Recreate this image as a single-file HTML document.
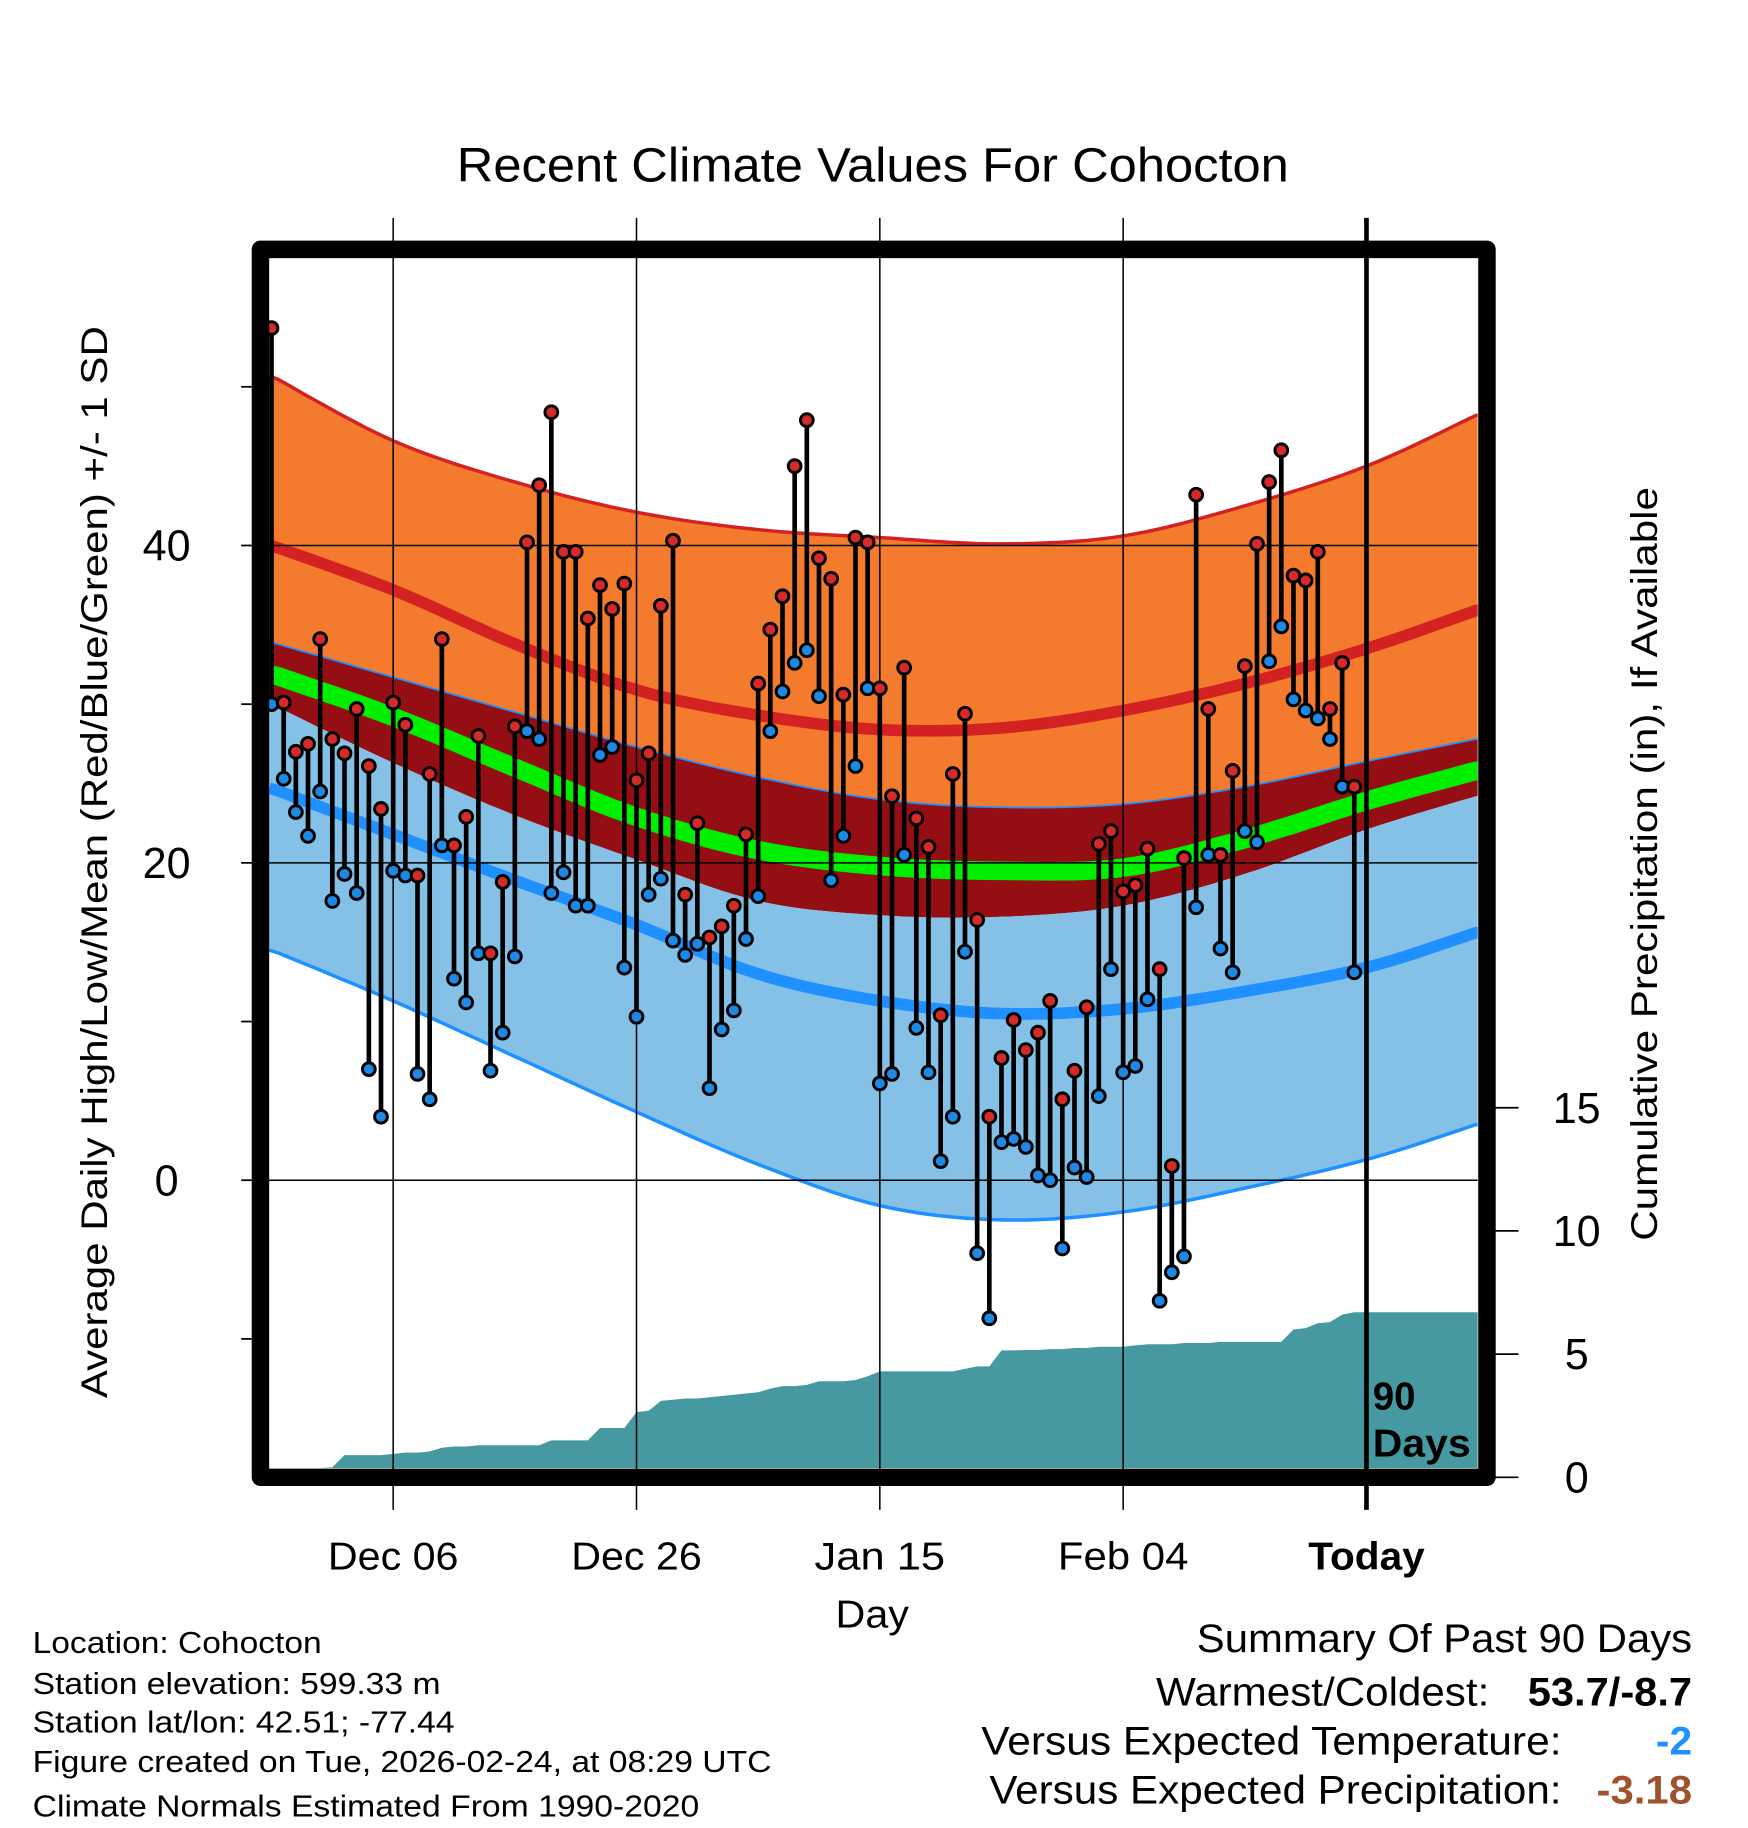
<!DOCTYPE html>
<html><head><meta charset="utf-8"><style>
html,body{margin:0;padding:0;background:#fff}
svg{display:block}
text{font-family:"Liberation Sans",Arial,sans-serif;fill:#000}
</style></head><body>
<svg id="chart" xmlns="http://www.w3.org/2000/svg" width="1748" height="1828" viewBox="0 0 1500 1569" preserveAspectRatio="none">
<text x="392" y="156" font-size="41" textLength="714" lengthAdjust="spacingAndGlyphs">Recent Climate Values For Cohocton</text>
<g id="plot"></g>
<text transform="translate(92,1200) rotate(-90)" font-size="32" textLength="920" lengthAdjust="spacingAndGlyphs">Average Daily High/Low/Mean (Red/Blue/Green) +/- 1 SD</text>
<text transform="translate(1422,1065) rotate(-90)" font-size="32" textLength="647" lengthAdjust="spacingAndGlyphs">Cumulative Precipitation (in), If Available</text>
<text x="717" y="1397" font-size="33" textLength="63" lengthAdjust="spacingAndGlyphs">Day</text>
<g font-size="26">
<text x="28" y="1419" textLength="248" lengthAdjust="spacingAndGlyphs">Location: Cohocton</text>
<text x="28" y="1454" textLength="350" lengthAdjust="spacingAndGlyphs">Station elevation: 599.33 m</text>
<text x="28" y="1487" textLength="362" lengthAdjust="spacingAndGlyphs">Station lat/lon: 42.51; -77.44</text>
<text x="28" y="1521" textLength="634" lengthAdjust="spacingAndGlyphs">Figure created on Tue, 2026-02-24, at 08:29 UTC</text>
<text x="28" y="1559" textLength="572" lengthAdjust="spacingAndGlyphs">Climate Normals Estimated From 1990-2020</text>
</g>
<g font-size="34">
<text x="1027" y="1418" textLength="425" lengthAdjust="spacingAndGlyphs">Summary Of Past 90 Days</text>
<text x="992" y="1464" textLength="286" lengthAdjust="spacingAndGlyphs">Warmest/Coldest:</text>
<text x="1311" y="1464" font-weight="bold" textLength="141" lengthAdjust="spacingAndGlyphs">53.7/-8.7</text>
<text x="842" y="1506" textLength="498" lengthAdjust="spacingAndGlyphs">Versus Expected Temperature:</text>
<text x="1421" y="1506" font-weight="bold" style="fill:#1e90ff" textLength="31" lengthAdjust="spacingAndGlyphs">-2</text>
<text x="849" y="1548" textLength="491" lengthAdjust="spacingAndGlyphs">Versus Expected Precipitation:</text>
<text x="1370" y="1548" font-weight="bold" style="fill:#a0522d" textLength="82" lengthAdjust="spacingAndGlyphs">-3.18</text>
</g>
</svg>
<script>
const highs=[53.7,30.1,27.0,27.5,34.1,27.8,26.9,29.7,26.1,23.4,30.1,28.7,19.2,25.6,34.1,21.1,22.9,28.0,14.3,18.8,28.6,40.2,43.8,48.4,39.6,39.6,35.4,37.5,36.0,37.6,25.2,26.9,36.2,40.3,18.0,22.5,15.3,16.0,17.3,21.8,31.3,34.7,36.8,45.0,47.9,39.2,37.9,30.6,40.5,40.2,31.0,24.2,32.3,22.8,21.0,10.4,25.6,29.4,16.4,4.0,7.7,10.1,8.2,9.3,11.3,5.1,6.9,10.9,21.2,22.0,18.2,18.6,20.9,13.3,0.9,20.3,43.2,29.7,20.5,25.8,32.4,40.1,44.0,46.0,38.1,37.8,39.6,29.7,32.6,24.8];
const lows=[30.0,25.3,23.2,21.7,24.5,17.6,19.3,18.1,7.0,4.0,19.5,19.2,6.7,5.1,21.1,12.7,11.2,14.3,6.9,9.3,14.1,28.3,27.8,18.1,19.4,17.3,17.3,26.8,27.3,13.4,10.3,18.0,19.0,15.1,14.2,14.9,5.8,9.5,10.7,15.2,17.9,28.3,30.8,32.6,33.4,30.5,18.9,21.7,26.1,31.0,6.1,6.7,20.5,9.6,6.8,1.2,4.0,14.4,-4.6,-8.7,2.4,2.6,2.1,0.3,0.0,-4.3,0.8,0.2,5.3,13.3,6.8,7.2,11.4,-7.6,-5.8,-4.8,17.2,20.5,14.6,13.1,22.0,21.3,32.7,34.9,30.3,29.6,29.1,27.8,24.8,13.1];
const precip=[0.0,0.0,0.0,0.0,0.0,0.4,0.9,0.9,0.9,0.9,0.95,1.0,1.0,1.05,1.2,1.25,1.25,1.3,1.3,1.3,1.3,1.3,1.3,1.5,1.5,1.5,1.5,2.0,2.0,2.0,2.65,2.7,3.1,3.15,3.2,3.2,3.25,3.3,3.35,3.4,3.45,3.6,3.7,3.7,3.75,3.9,3.9,3.9,3.95,4.1,4.3,4.3,4.3,4.3,4.3,4.3,4.3,4.4,4.5,4.5,5.15,5.15,5.17,5.17,5.2,5.2,5.25,5.25,5.3,5.3,5.3,5.35,5.4,5.4,5.4,5.45,5.45,5.45,5.5,5.5,5.5,5.5,5.5,5.5,6.0,6.05,6.25,6.3,6.6,6.7];
const normDays=[0,10,20,30,40,50,60,70,80,90,99];
const highPlus=[50.7,46.6,44.0,42.1,41.0,40.5,40.1,40.6,42.5,45.0,48.2];
const meanHigh=[40.0,37.2,33.8,30.9,29.3,28.4,28.5,29.6,31.3,33.5,35.9];
const lowPlus=[33.9,31.7,29.5,27.3,25.4,24.0,23.5,23.7,24.8,26.4,27.8];
const meanAvg=[31.9,29.2,26.0,22.9,20.8,19.8,19.5,19.7,21.5,23.9,25.8];
const highMinus=[30.0,26.3,23.0,20.2,17.6,16.7,16.6,17.3,19.3,22.1,24.2];
const meanLow=[24.7,21.8,18.9,16.1,13.0,11.3,10.5,10.8,11.9,13.4,15.6];
const lowMinus=[14.5,11.3,7.8,4.3,1.0,-1.6,-2.5,-2.0,-0.5,1.3,3.5];
const xTickDays=[10,30,50,70,90];
const xTickLabels=["Dec 06","Dec 26","Jan 15","Feb 04","Today"];
const yTicks=[0,20,40];
const y2Ticks=[0,5,10,15];

const NS="http://www.w3.org/2000/svg";
const g=document.getElementById('plot');
const X=d=>233+d*10.44;
const Y=v=>1013-v*13.62;
const YP=p=>1268-p*21.15;
const L=231,R=1268,T=221,B=1260;
function mk(tag,attrs,parent){const e=document.createElementNS(NS,tag);for(const k in attrs)e.setAttribute(k,attrs[k]);(parent||g).appendChild(e);return e;}
function curvePts(arr){const pts=[];for(let i=0;i<normDays.length;i++){pts.push([Math.max(L,Math.min(R,X(normDays[i]))),Y(arr[i])]);}
 const out=[];for(let i=0;i<pts.length-1;i++){const p0=pts[Math.max(0,i-1)],p1=pts[i],p2=pts[i+1],p3=pts[Math.min(pts.length-1,i+2)];
 for(let t=0;t<1;t+=0.1){const t2=t*t,t3=t2*t;const f=(a,b,c,d)=>0.5*((2*b)+(-a+c)*t+(2*a-5*b+4*c-d)*t2+(-a+3*b-3*c+d)*t3);out.push([f(p0[0],p1[0],p2[0],p3[0]),f(p0[1],p1[1],p2[1],p3[1])]);}}
 out.push(pts[pts.length-1]);out[0][0]=L;out[out.length-1][0]=R;return out;}
const S=p=>p.map(q=>q[0].toFixed(1)+','+q[1].toFixed(1)).join(' ');
function band(a,b,fill,name){const p=curvePts(a).concat(curvePts(b).reverse());const e=mk('polygon',{points:S(p),fill:fill});

}
function line(a,stroke,w,name){const e=mk('polyline',{points:S(curvePts(a)),fill:'none',stroke:stroke,'stroke-width':w});

}

band(highPlus,lowPlus,'#f47a2e','high-sd-band');
band(lowPlus,highMinus,'#940e14','overlap-band');
band(highMinus,lowMinus,'#85c1e6','low-sd-band');
line(highPlus,'#d42222',3,'high-plus-sd-line');
line(lowPlus,'#1e90ff',1.5,'low-plus-sd-line');
line(lowMinus,'#1e90ff',3,'low-minus-sd-line');
line(meanHigh,'#d42222',10,'mean-high-line');
line(meanLow,'#1e90ff',10,'mean-low-line');
line(meanAvg,'#00ee00',16,'mean-line');

// precipitation area
{const pts=[[L,B]];for(let i=0;i<precip.length;i++){pts.push([i===0?L:X(i),YP(precip[i])]);}
pts.push([R,YP(precip[precip.length-1])]);pts.push([R,B]);
const e=mk('polygon',{points:S(pts.map(p=>[p[0],Math.min(B,p[1])])),fill:'#4799a1'});

}

// grid
yTicks.forEach(v=>{const e=mk('line',{x1:216,x2:R,y1:Y(v),y2:Y(v),stroke:'#000','stroke-width':1.3});


const t=mk('text',{x:143,y:Y(v)+13,'font-size':37,'text-anchor':'middle'});t.textContent=v;

});
for(let v=-10;v<=50;v+=10){const e=mk('line',{x1:207,x2:216,y1:Y(v),y2:Y(v),stroke:'#000','stroke-width':1.5});

}
xTickDays.forEach((d,i)=>{const today=i===xTickDays.length-1;
const e=mk('line',{x1:X(d),x2:X(d),y1:187,y2:1296,stroke:'#000','stroke-width':today?4:1.3});


const w=today?100:112;
const t=mk('text',{x:X(d)-w/2,y:1347,'font-size':33,'font-weight':today?'bold':'normal',textLength:w,lengthAdjust:'spacingAndGlyphs'});t.textContent=xTickLabels[i];

});
y2Ticks.forEach(p=>{const e=mk('line',{x1:1283,x2:1303,y1:YP(p),y2:YP(p),stroke:'#000','stroke-width':1.5});


const t=mk('text',{x:1353,y:YP(p)+13,'font-size':37,'text-anchor':'middle'});t.textContent=p;

});

// daily stems
for(let i=0;i<highs.length;i++){const x=X(i);
const s=mk('line',{x1:x,x2:x,y1:Y(highs[i]),y2:Y(lows[i]),stroke:'#000','stroke-width':4});

}
for(let i=0;i<highs.length;i++){const x=X(i);
const h=mk('circle',{cx:x,cy:Y(highs[i]),r:5.5,fill:'#d42a2a',stroke:'#000','stroke-width':2.5});


const l=mk('circle',{cx:x,cy:Y(lows[i]),r:5.5,fill:'#1e88e5',stroke:'#000','stroke-width':2.5});

}

// 90 days label
{const t1=mk('text',{x:1178,y:1210,'font-size':33,'font-weight':'bold'});t1.textContent='90';


const t2=mk('text',{x:1178,y:1250,'font-size':33,'font-weight':'bold',textLength:84,lengthAdjust:'spacingAndGlyphs'});t2.textContent='Days';

}

// frame
{const f=mk('rect',{x:223.5,y:214,width:1052.5,height:1054,fill:'none',stroke:'#000','stroke-width':15,'stroke-linejoin':'round'});

}
</script>
</body></html>
